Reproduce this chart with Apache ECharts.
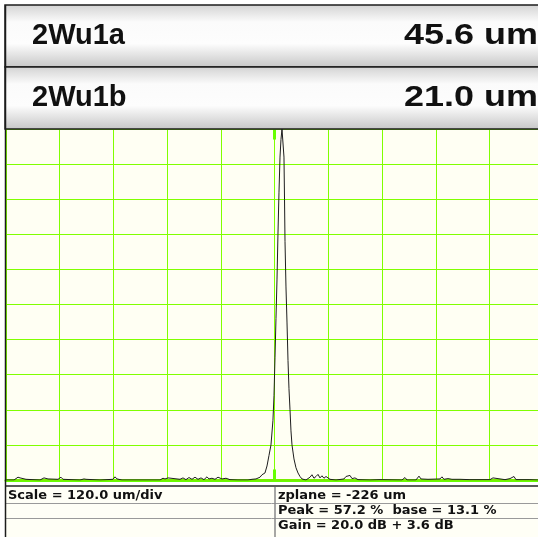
<!DOCTYPE html>
<html>
<head>
<meta charset="utf-8">
<script src="https://cdn.jsdelivr.net/npm/echarts@6/dist/echarts.min.js"></script>
<style>
  html, body { margin: 0; padding: 0; background: #fff; }
  #chart { width: 538px; height: 537px; }
</style>
</head>
<body>
<div id="chart"></div>
<script>
// readings shown in the header boxes
const headerNames = ["2Wu1a", "2Wu1b"];
const headerValues = ["45.6 um", "21.0 um"];

// info table under the trace
const infoLeft = ["Scale = 120.0 um/div", "", ""];
const infoRight = ["zplane = -226 um", "Peak = 57.2 %  base = 13.1 %", "Gain = 20.0 dB + 3.6 dB"];

// trace: position in divisions (120 um/div), amplitude in % of screen height
const posDiv = [
  0, 0.149, 0.223, 0.261, 0.298, 0.372, 0.633, 0.707, 0.744, 0.782, 0.968, 1.023, 1.061,
  1.377, 1.451, 1.489, 1.749, 1.991, 2.028, 2.066, 2.159, 2.866, 2.921, 2.959, 3.015, 3.052,
  3.238, 3.294, 3.349, 3.405, 3.461, 3.517, 3.573, 3.629, 3.684, 3.740, 3.777, 3.833, 3.889,
  3.945, 3.982, 4.019, 4.094, 4.168, 4.317, 4.503, 4.578, 4.652, 4.727,
  4.764, 4.819, 4.857, 4.894, 4.931, 4.968, 4.987, 5.006, 5.024, 5.043, 5.061, 5.080, 5.099,
  5.117, 5.136, 5.155, 5.173, 5.183, 5.192, 5.210, 5.229, 5.248, 5.266, 5.285, 5.303, 5.322,
  5.359, 5.396, 5.434, 5.471, 5.508, 5.582, 5.657, 5.694, 5.731, 5.769, 5.806, 5.843, 5.880,
  5.917, 5.955, 6.029, 6.141, 6.290, 6.327, 6.364, 6.401, 6.439, 6.494, 6.550, 6.774, 6.960,
  7.369, 7.425, 7.462, 7.629, 7.685, 7.722, 7.853, 8.076, 8.113, 8.150, 8.225, 8.262, 8.299,
  8.448, 8.634, 9.006, 9.062, 9.099, 9.286, 9.379, 9.453, 9.490, 9.750, 9.899
];
const amplitude = [
  0, 0, 0.8, 0.6, 0.8, 0.2, 0, 0.6, 1.0, 0.3, 0.2, 0.8, 0.2,
  0, 0.3, 0.2, 0, 0.2, 0.9, 0.3, 0, 0, 0.5, 0.3, 0.6, 0.1,
  0.2, 0.6, 0.1, 0.7, 0.2, 0.8, 0.2, 0.6, 0.1, 0.9, 0.3, 0.5, 0.2,
  0.8, 1.2, 0.3, 0.5, 0.1, 0, 0, 0.2, 0.3, 0.8,
  1.5, 2, 4, 7, 10, 17, 24, 35, 46, 57, 70, 82, 92,
  97, 100, 100, 92, 80, 68, 55, 45, 34, 26, 20, 14, 10,
  6, 3.5, 2, 1, 0.3, 0, 0.8, 1.5, 0.5, 1.0, 1.6, 0.6, 1.2,
  0.5, 1.0, 0.2, 0, 0.3, 1.0, 0.6, 1.3, 0.4, 0.6, 0.1, 0, 0.1,
  0, 0.7, 0, 0, 1.1, 0.3, 0.2, 0.3, 0.9, 0.2, 0.4, 0.8, 0.2,
  0.2, 0.1, 0.1, 0.6, 0.1, 0.1, 0.4, 1.0, 0.1, 0.1, 0
];

// gate markers at screen centre
const gateDiv = 5;
const gateTop = [100, 97];
const gateBottom = [0, 3];

const chart = echarts.init(document.getElementById("chart"));

const headerGradient = {
  type: "linear", x: 0, y: 0, x2: 0, y2: 1,
  colorStops: [
    { offset: 0, color: "#d2d2d2" },
    { offset: 0.28, color: "#fbfbfb" },
    { offset: 0.62, color: "#fdfdfd" },
    { offset: 1, color: "#c6c6c6" }
  ]
};

const headerFont = "bold 29px 'Liberation Sans', Arial, sans-serif";
const tableFont = "bold 13px 'DejaVu Sans', sans-serif";

const graphics = [];
headerNames.forEach((name, i) => {
  const top = 5 + i * 62;
  graphics.push({
    type: "rect", z: 10,
    shape: { x: 5, y: top, width: 540, height: 62 },
    style: { fill: headerGradient, stroke: "#1c1c1c", lineWidth: 1.5 }
  });
  graphics.push({
    type: "text", z: 11, x: 32, y: top + 31,
    style: { text: name, font: headerFont, fill: "#111", textVerticalAlign: "middle" }
  });
  // the value text is drawn wider than the name in the original
  graphics.push({
    type: "text", z: 11, x: 538, y: top + 31, scaleX: 1.24,
    style: { text: headerValues[i], font: headerFont, fill: "#111", textAlign: "right", textVerticalAlign: "middle" }
  });
});

// info table
graphics.push({
  type: "rect", z: 10,
  shape: { x: 5, y: 486, width: 540, height: 60 },
  style: { fill: "#fffff6", stroke: null }
});
graphics.push({ type: "line", z: 11, shape: { x1: 5, y1: 486, x2: 538, y2: 486 }, style: { stroke: "#5a5a5a", lineWidth: 2 } });
[503.5, 518.5].forEach((y) => {
  graphics.push({ type: "line", z: 11, shape: { x1: 5, y1: y, x2: 538, y2: y }, style: { stroke: "#9a9a9a", lineWidth: 1 } });
});
graphics.push({ type: "line", z: 11, shape: { x1: 275, y1: 487, x2: 275, y2: 537 }, style: { stroke: "#8a8a8a", lineWidth: 1.5 } });
infoLeft.forEach((t, i) => {
  graphics.push({
    type: "text", z: 12, x: 8, y: 496 + i * 15,
    style: { text: t, font: tableFont, fill: "#111", textVerticalAlign: "middle" }
  });
});
infoRight.forEach((t, i) => {
  graphics.push({
    type: "text", z: 12, x: 278, y: 496 + i * 15,
    style: { text: t, font: tableFont, fill: "#111", textVerticalAlign: "middle" }
  });
});

// outer frame on the left
graphics.push({ type: "line", z: 13, shape: { x1: 5.5, y1: 5, x2: 5.5, y2: 537 }, style: { stroke: "#1c1c1c", lineWidth: 1.5 } });

const gridGreen = "#80ff00";

chart.setOption({
  animation: false,
  backgroundColor: "#ffffff",
  grid: {
    left: 6, right: 0, top: 129, bottom: 57,
    show: true, backgroundColor: "#fffff3", borderWidth: 0
  },
  xAxis: [
    {
      type: "value", min: 0, max: 9.9, interval: 1,
      axisLine: { show: true, onZero: false, lineStyle: { color: "#66ff00", width: 3 } },
      axisTick: { show: false },
      axisLabel: { show: false },
      splitLine: { show: true, lineStyle: { color: gridGreen, width: 1 } }
    },
    {
      type: "value", position: "top", min: 0, max: 9.9, interval: 1,
      axisLine: { show: true, lineStyle: { color: "#77ee00", width: 2 } },
      axisTick: { show: false },
      axisLabel: { show: false },
      splitLine: { show: false }
    }
  ],
  yAxis: {
    type: "value", min: 0, max: 100, interval: 10,
    axisLine: { show: false },
    axisTick: { show: false },
    axisLabel: { show: false },
    splitLine: { show: true, lineStyle: { color: gridGreen, width: 1 } }
  },
  series: [
    {
      type: "line",
      data: posDiv.map((x, i) => [x, amplitude[i]]),
      showSymbol: false,
      symbol: "none",
      clip: true,
      lineStyle: { color: "#1e1e1e", width: 1 },
      markLine: {
        silent: true,
        symbol: "none",
        label: { show: false },
        lineStyle: { color: "#66ff00", width: 3, type: "solid" },
        data: [
          [{ coord: [gateDiv, gateTop[0]] }, { coord: [gateDiv, gateTop[1]] }],
          [{ coord: [gateDiv, gateBottom[0]] }, { coord: [gateDiv, gateBottom[1]] }]
        ]
      }
    }
  ],
  graphic: graphics
});
</script>
</body>
</html>
